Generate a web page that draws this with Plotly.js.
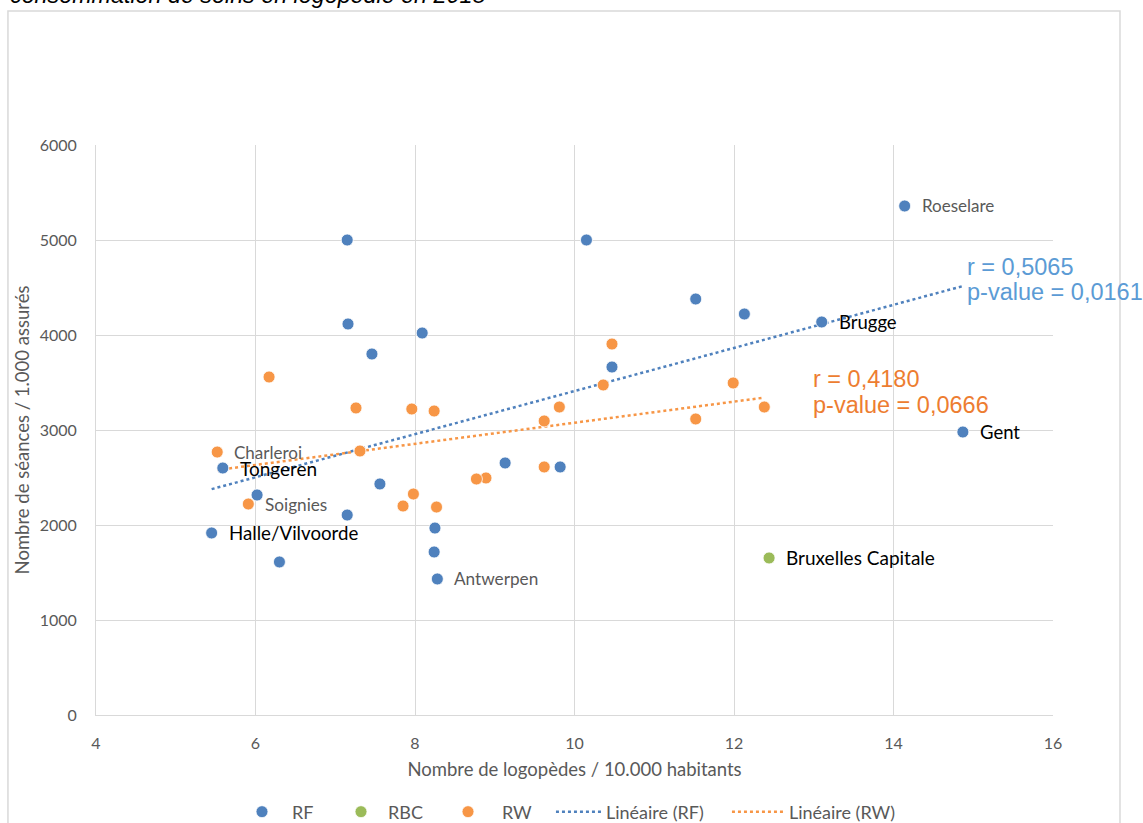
<!DOCTYPE html>
<html>
<head>
<meta charset="utf-8">
<script src="https://cdn.plot.ly/plotly-3.0.1.min.js"></script>
<style>html,body{margin:0;padding:0;background:#fff;}#chart{width:1143px;height:823px;}</style>
</head>
<body>
<div id="chart"></div>
<script>
// ---- data ----
const rfX = [7.15, 10.15, 14.14, 11.52, 12.13, 13.10, 7.16, 8.09, 7.46, 10.47, 14.87, 9.13, 9.82, 5.59, 7.56, 6.02, 7.15, 8.25, 5.45, 8.24, 6.30, 8.28];
const rfY = [5000, 5000, 5358, 4379, 4221, 4137, 4116, 4021, 3800, 3663, 2979, 2653, 2611, 2600, 2432, 2316, 2105, 1968, 1916, 1716, 1611, 1432];
const rfNames = ["", "", "Roeselare", "", "", "Brugge", "", "", "", "", "Gent", "", "", "Tongeren", "", "", "", "", "Halle/Vilvoorde", "", "", "Antwerpen"];

const rbcX = [12.44];
const rbcY = [1653];
const rbcNames = ["Bruxelles Capitale"];

const rwX = [10.47, 6.17, 11.99, 10.36, 9.81, 12.38, 7.26, 7.96, 8.24, 11.52, 9.62, 7.31, 5.52, 9.62, 8.89, 8.77, 7.98, 5.91, 7.85, 8.27];
const rwY = [3905, 3558, 3495, 3474, 3242, 3242, 3232, 3221, 3200, 3116, 3095, 2779, 2768, 2611, 2495, 2484, 2326, 2221, 2200, 2189];
const rwNames = ["", "", "", "", "", "", "", "", "", "", "", "", "Charleroi", "", "", "", "", "Soignies", "", ""];

const seriesNames = ["RF", "RBC", "RW", "Linéaire (RF)", "Linéaire (RW)"];
const statsRF = ["r = 0,5065", "p-value = 0,0161"];
const statsRW = ["r = 0,4180", "p-value = 0,0666"];
const chartTitle = "consommation de soins en logopédie en 2018";
const xTitle = "Nombre de logopèdes / 10.000 habitants";
const yTitle = "Nombre de séances / 1.000 assurés";

// ---- styles ----
const cBlue = "#4F81BD", cGreen = "#9BBB59", cOrange = "#F79646";
const grey = "#595959";
const FONT = "Lato, 'Open Sans', sans-serif";
const labelStyle = {
  "Roeselare": {size: 17, color: grey},
  "Brugge": {size: 18.5, color: "#000"},
  "Gent": {size: 18.5, color: "#000"},
  "Tongeren": {size: 19, color: "#000"},
  "Halle/Vilvoorde": {size: 18.7, color: "#000"},
  "Antwerpen": {size: 17.2, color: grey},
  "Bruxelles Capitale": {size: 19, color: "#000"},
  "Charleroi": {size: 17, color: grey},
  "Soignies": {size: 17.2, color: grey}
};

function linfit(xs, ys) {
  const n = xs.length;
  let sx = 0, sy = 0, sxx = 0, sxy = 0;
  for (let i = 0; i < n; i++) { sx += xs[i]; sy += ys[i]; sxx += xs[i]*xs[i]; sxy += xs[i]*ys[i]; }
  const b = (n*sxy - sx*sy) / (n*sxx - sx*sx);
  const a = (sy - b*sx) / n;
  const x0 = Math.min(...xs), x1 = Math.max(...xs);
  return {x: [x0, x1], y: [a + b*x0, a + b*x1]};
}
const fitRF = linfit(rfX, rfY);
const fitRW = linfit(rwX, rwY);

const mk = (c) => ({size: 12, color: c, line: {color: "#fff", width: 0.8}});
const traces = [
  {type: "scatter", mode: "lines", x: fitRF.x, y: fitRF.y, name: seriesNames[3], line: {color: cBlue, width: 2.5, dash: "dot"}, legend: "legend4"},
  {type: "scatter", mode: "lines", x: fitRW.x, y: fitRW.y, name: seriesNames[4], line: {color: cOrange, width: 2.5, dash: "dot"}, legend: "legend5"},
  {type: "scatter", mode: "markers", x: rfX, y: rfY, name: seriesNames[0], marker: mk(cBlue), legend: "legend"},
  {type: "scatter", mode: "markers", x: rbcX, y: rbcY, name: seriesNames[1], marker: mk(cGreen), legend: "legend2"},
  {type: "scatter", mode: "markers", x: rwX, y: rwY, name: seriesNames[2], marker: mk(cOrange), legend: "legend3"}
];

const annotations = [];
function addLabels(xs, ys, names) {
  names.forEach((nm, i) => {
    if (!nm) return;
    const st = labelStyle[nm];
    annotations.push({x: xs[i], y: ys[i], xref: "x", yref: "y", text: nm, showarrow: false,
      xanchor: "left", yanchor: "middle", xshift: 15,
      font: {family: FONT, size: st.size, color: st.color}});
  });
}
addLabels(rfX, rfY, rfNames);
addLabels(rbcX, rbcY, rbcNames);
addLabels(rwX, rwY, rwNames);

const statFont = (c) => ({family: "'Liberation Sans', Arial, sans-serif", size: 23.5, color: c});
const statPos = {rf: {x: 14.90, y: [4716, 4453]}, rw: {x: 12.96, y: [3537, 3263]}};
statsRF.forEach((t, i) => annotations.push({x: statPos.rf.x, y: statPos.rf.y[i], xref: "x", yref: "y", text: t,
  showarrow: false, xanchor: "left", yanchor: "middle", font: statFont("#5B9BD5")}));
statsRW.forEach((t, i) => annotations.push({x: statPos.rw.x, y: statPos.rw.y[i], xref: "x", yref: "y", text: t,
  showarrow: false, xanchor: "left", yanchor: "middle", font: statFont("#ED7D31")}));

annotations.push({x: -0.092, y: 1.236, xref: "paper", yref: "paper", text: "<i>" + chartTitle + "</i>", showarrow: false,
  xanchor: "left", yanchor: "bottom",
  font: {family: "'Liberation Sans', Arial, sans-serif", size: 23.3, color: "#000"}});

const axisFont = {family: FONT, size: 16, color: grey};
const legBase = (x, iw) => ({x: x, xanchor: "left", xref: "paper", y: 0.0134, yref: "container", yanchor: "middle",
  orientation: "h", itemwidth: iw, bgcolor: "rgba(0,0,0,0)", font: {family: FONT, size: 18, color: grey}});

const layout = {
  width: 1143, height: 823,
  margin: {l: 96, r: 90, t: 145, b: 108, autoexpand: false},
  paper_bgcolor: "#fff", plot_bgcolor: "#fff",
  showlegend: true,
  legend: legBase(0.1421, 50),
  legend2: legBase(0.2487, 44),
  legend3: legBase(0.3532, 58),
  legend4: legBase(0.4754, 45),
  legend5: legBase(0.6593, 52),
  xaxis: {range: [4, 16], dtick: 2, tick0: 4, showgrid: true, gridcolor: "#D9D9D9", gridwidth: 1,
    showline: true, linecolor: "#D9D9D9", linewidth: 1, zeroline: false, ticks: "", ticklabelstandoff: 14,
    tickfont: axisFont, fixedrange: true,
    title: {text: xTitle, font: {family: FONT, size: 18.5, color: grey}, standoff: 11}},
  yaxis: {range: [0, 6000], dtick: 1000, showgrid: true, gridcolor: "#D9D9D9", gridwidth: 1,
    showline: true, linecolor: "#D9D9D9", linewidth: 1, zeroline: false, ticks: "", ticklabelstandoff: 15,
    tickfont: axisFont, fixedrange: true,
    title: {text: yTitle, font: {family: FONT, size: 18.5, color: grey}, standoff: 5}},
  shapes: [{type: "rect", xref: "paper", yref: "paper", x0: -0.092, x1: 1.070, y0: -0.21, y1: 1.235,
    line: {color: "#D9D9D9", width: 1.5}, fillcolor: "rgba(0,0,0,0)", layer: "below"}],
  annotations: annotations
};

Plotly.newPlot("chart", traces, layout, {staticPlot: true, displayModeBar: false});
</script>
</body>
</html>
